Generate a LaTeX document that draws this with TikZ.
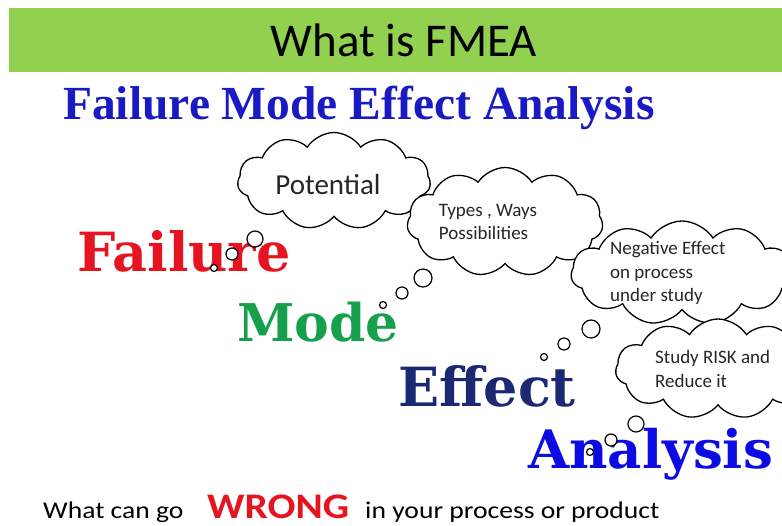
\documentclass[tikz,border=0pt]{standalone}
\usepackage{fontspec}
\setmainfont{Carlito}
\newfontfamily\slabfont{DejaVu Serif}
\newfontfamily\romanfont{Liberation Serif}
\usetikzlibrary{shapes.symbols}
\definecolor{bargreen}{HTML}{92D050}
\definecolor{titleblue}{HTML}{1A1AC4}
\definecolor{failred}{HTML}{E6141E}
\definecolor{modegreen}{HTML}{17A04C}
\definecolor{effectnavy}{HTML}{1B2872}
\definecolor{anablue}{HTML}{0C0CE2}
\begin{document}
\begin{tikzpicture}[x=1pt,y=-1pt,
  puff/.style={cloud, cloud puffs=11, cloud puff arc=115, cloud ignores aspect,
    draw, fill=white, line width=1.3pt, inner sep=0pt},
  bubble/.style={circle, draw, fill=white, line width=1.2pt, inner sep=0pt, minimum size=#1},
  word/.style={anchor=base west, inner sep=0pt, font=\slabfont\bfseries\fontsize{#1}{#1}\selectfont},
  say/.style={align=left, inner sep=0pt, text=black!85, font=\fontsize{#1}{23.5}\selectfont},
  line/.style={anchor=base west, inner sep=0pt, xscale=1.15, font=\fontsize{#1}{#1}\selectfont}]
\useasboundingbox (0,0) rectangle (782,526);
\fill[bargreen] (9,8) rectangle (782,72);
\node (head) at (404,57) [anchor=base, inner sep=0pt, font=\fontsize{47}{50}\selectfont] {What is FMEA};
\node (full) at (63,120) [anchor=base west, inner sep=0pt, text=titleblue,
  font=\romanfont\bfseries\fontsize{47.5}{50}\selectfont] {Failure Mode Effect Analysis};

\node (f) at (77,272) [word=54, text=failred] {Failure};
\node (m) at (237,342) [word=52, text=modegreen] {Mode};
\node (e) at (398,407) [word=54, text=effectnavy] {Effect};
\node (a) at (528,468) [word=53, text=anablue] {Analysis};

\node (p) at (334,181) [puff, minimum width=193, minimum height=97] {};
\node (p1) at (255,239) [bubble=16pt] {};
\node (p2) at (232,254) [bubble=12pt] {};
\node (p3) at (214,268) [bubble=7pt] {};
\node (pt) at (328,185) [say=29] {Potential};

\node (t) at (505,222) [puff, minimum width=196, minimum height=109] {};
\node (t1) at (423,278) [bubble=18pt] {};
\node (t2) at (402,293) [bubble=12pt] {};
\node (t3) at (383,305) [bubble=7pt] {};
\node (tt) at (488,222) [say=19] {Types , Ways\\Possibilities};

\node (n) at (682,273) [puff, minimum width=222, minimum height=104] {};
\node (n1) at (591,329) [bubble=18pt] {};
\node (n2) at (564,344) [bubble=12pt] {};
\node (n3) at (544,357) [bubble=7pt] {};
\node (nt) at (610,273) [say=19, anchor=west] {Negative Effect\\on process\\under study};

\node (s) at (718,369) [puff, minimum width=205, minimum height=100] {};
\node (s1) at (636,424) [bubble=16pt] {};
\node (s2) at (611,440) [bubble=12pt] {};
\node (s3) at (590,452) [bubble=7pt] {};
\node (st) at (655,369) [say=19, anchor=west] {Study RISK and\\Reduce it};

\node (q1) at (43,518) [line=24] {What can go};
\node (q2) at (207,518) [line=36, text=failred, font=\bfseries\fontsize{36}{36}\selectfont] {WRONG};
\node (q3) at (365,518) [line=24] {in your process or product};
\end{tikzpicture}
\end{document}
